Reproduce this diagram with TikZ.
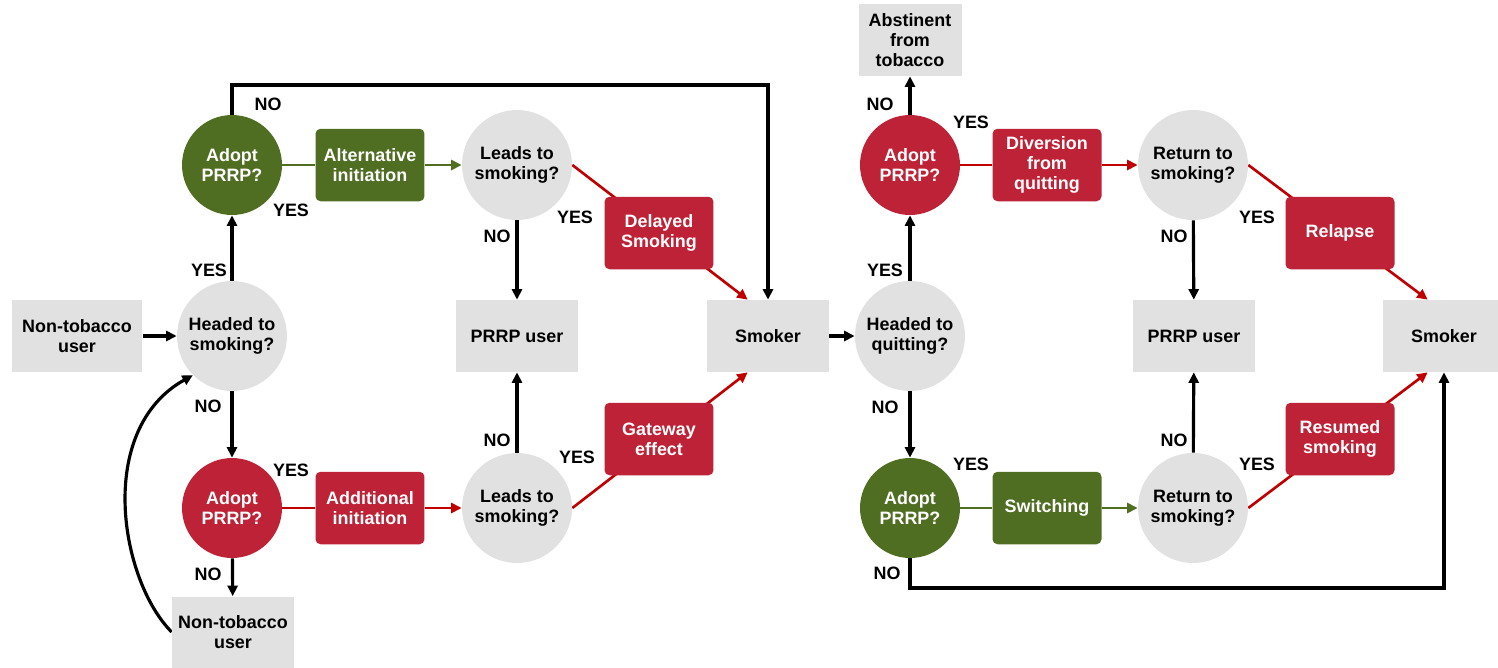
\documentclass[tikz,border=0pt]{standalone}
\usepackage{fontspec}
\setmainfont{Liberation Sans}
\usetikzlibrary{arrows.meta,backgrounds,calc}
\definecolor{pgreen}{HTML}{4F6E22}
\definecolor{pred}{HTML}{BE2237}
\definecolor{lred}{HTML}{C00000}
\definecolor{pgray}{HTML}{E1E1E1}
\tikzset{
  every node/.style={font=\fontsize{10.2}{11.4}\selectfont\bfseries, align=center, inner sep=0pt},
  graybox/.style={rectangle, fill=pgray, minimum width=2.44cm, minimum height=1.44cm},
  qcirc/.style={circle, fill=pgray, minimum size=2.2cm},
  gcirc/.style={circle, fill=pgreen, text=white, minimum size=2cm},
  rcirc/.style={circle, fill=pred, text=white, minimum size=2cm},
  gproc/.style={rectangle, rounded corners=0.1cm, fill=pgreen, text=white, minimum width=2.18cm, minimum height=1.45cm},
  rproc/.style={rectangle, rounded corners=0.1cm, fill=pred, text=white, minimum width=2.18cm, minimum height=1.45cm},
  karr/.style={draw=black, line width=1.8pt, -{Triangle[length=0.21cm,width=0.2cm]}},
  kline/.style={draw=black, line width=1.8pt},
  rline/.style={draw=lred, line width=1.5pt},
  gline/.style={draw=pgreen, line width=1.5pt},
  rarr/.style={rline, -{Triangle[length=0.21cm,width=0.2cm]}},
  garr/.style={gline, -{Triangle[length=0.21cm,width=0.2cm]}},
  lab/.style={text=black}
}
\begin{document}
\begin{tikzpicture}[x=0.02cm,y=-0.02cm]
\useasboundingbox (0,0) rectangle (1498,667);
% left half
\node[graybox, minimum width=2.62cm] (nt1) at (77,336) {Non-tobacco\\user};
\node[qcirc] (hs) at (232,336) {Headed to\\smoking?};
\node[gcirc] (ag1) at (232,165) {Adopt\\PRRP?};
\node[gproc] (alt) at (370,165) {Alternative\\initiation};
\node[qcirc] (lt1) at (517,165) {Leads to\\smoking?};
\node[rproc] (del) at (659,233) {Delayed\\Smoking};
\node[graybox] (pu1) at (517,336) {PRRP user};
\node[graybox] (sm1) at (768,336) {Smoker};
\node[rcirc] (ar1) at (232,508) {Adopt\\PRRP?};
\node[rproc] (add) at (370,508) {Additional\\initiation};
\node[qcirc] (lt2) at (517,508) {Leads to\\smoking?};
\node[rproc] (gat) at (659,439) {Gateway\\effect};
\node[graybox, minimum height=1.42cm] (nt2) at (233,632) {Non-tobacco\\user};
% right half
\node[qcirc] (hq) at (910,336) {Headed to\\quitting?};
\node[rcirc] (ar2) at (910,165) {Adopt\\PRRP?};
\node[graybox, minimum width=2.06cm] (abs) at (910,40) {Abstinent\\from\\tobacco};
\node[rproc] (div) at (1047,165) {Diversion\\from\\quitting};
\node[qcirc] (rt1) at (1193,165) {Return to\\smoking?};
\node[rproc] (rel) at (1340,233) {Relapse};
\node[graybox] (pu2) at (1194,336) {PRRP user};
\node[graybox] (sm2) at (1444,336) {Smoker};
\node[gcirc] (ag2) at (910,508) {Adopt\\PRRP?};
\node[gproc] (sw) at (1047,508) {Switching};
\node[qcirc] (rt2) at (1193,508) {Return to\\smoking?};
\node[rproc] (res) at (1340,439) {Resumed\\smoking};
\coordinate (topy) at (0,85);
\coordinate (boty) at (0,588);
\begin{scope}[on background layer]
% left connectors
\draw[karr] (nt1) -- (hs);
\draw[karr] (hs) -- (ag1);
\draw[gline] (ag1) -- (alt);
\draw[garr] (alt) -- (lt1);
\draw[karr] (ag1.north) |- (topy -| sm1) -- (sm1.north);
\draw[karr] (lt1) -- (pu1);
\draw[rarr] (lt1.east) -- ($(sm1.north west)+(41,0)$);
\draw[karr] (hs) -- (ar1);
\draw[karr] (ar1) -- (nt2);
\draw[rline] (ar1) -- (add);
\draw[rarr] (add) -- (lt2);
\draw[karr] (lt2) -- (pu1);
\draw[rarr] (lt2.east) -- ($(sm1.south west)+(41,0)$);
\draw[karr] (nt2.west) .. controls (120,580) and (95,430) .. (hs.225);
% right connectors
\draw[karr] (sm1) -- (hq);
\draw[karr] (hq) -- (ar2);
\draw[karr] (ar2) -- (abs);
\draw[rline] (ar2) -- (div);
\draw[rarr] (div) -- (rt1);
\draw[karr] (rt1) -- (pu2);
\draw[rarr] (rt1.east) -- ($(sm2.north west)+(45,0)$);
\draw[karr] (hq) -- (ag2);
\draw[gline] (ag2) -- (sw);
\draw[garr] (sw) -- (rt2);
\draw[karr] (rt2) -- (pu2);
\draw[rarr] (rt2.east) -- ($(sm2.south west)+(45,0)$);
\draw[karr] (ag2.south) |- (boty -| sm2) -- (sm2.south);
\end{scope}
% labels
\node[lab] (l1) at (268,104) {NO};
\node[lab] (l2) at (291,210) {YES};
\node[lab] (l3) at (209,270) {YES};
\node[lab] (l4) at (208,406) {NO};
\node[lab] (l5) at (291,470) {YES};
\node[lab] (l6) at (208,574) {NO};
\node[lab] (l7) at (497,236) {NO};
\node[lab] (l8) at (575,217) {YES};
\node[lab] (l9) at (497,440) {NO};
\node[lab] (l10) at (577,457) {YES};
\node[lab] (l11) at (880,104) {NO};
\node[lab] (l12) at (971,122) {YES};
\node[lab] (l13) at (885,270) {YES};
\node[lab] (l14) at (885,407) {NO};
\node[lab] (l15) at (971,464) {YES};
\node[lab] (l16) at (887,573) {NO};
\node[lab] (l17) at (1174,236) {NO};
\node[lab] (l18) at (1257,217) {YES};
\node[lab] (l19) at (1174,440) {NO};
\node[lab] (l20) at (1257,464) {YES};
\end{tikzpicture}
\end{document}
